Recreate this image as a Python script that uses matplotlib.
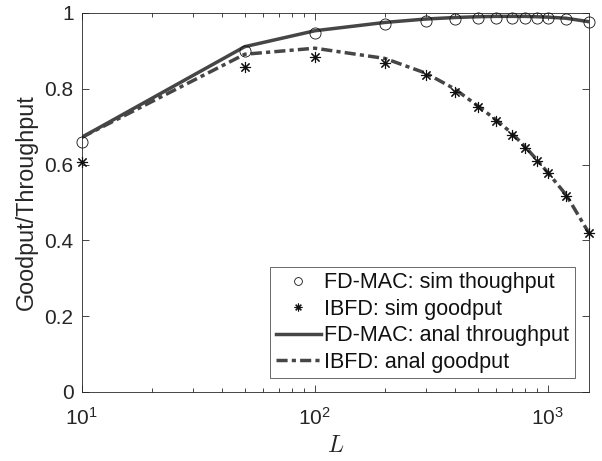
import numpy as np
import matplotlib
matplotlib.use("Agg")
import matplotlib.pyplot as plt
from matplotlib.ticker import FixedLocator, FixedFormatter, LogLocator, NullFormatter

plt.rcParams['font.family'] = ['Liberation Sans', 'DejaVu Sans']
plt.rcParams['mathtext.fontset'] = 'cm'

# packet length L
L = [10, 50, 100, 200, 300, 400, 500, 600, 700, 800, 900, 1000, 1200, 1500]

sim_throughput = [0.660, 0.900, 0.946, 0.971, 0.980, 0.984, 0.987, 0.988,
                  0.988, 0.988, 0.988, 0.987, 0.984, 0.976]
sim_goodput = [0.608, 0.858, 0.885, 0.869, 0.836, 0.792, 0.751, 0.716,
               0.678, 0.645, 0.610, 0.577, 0.517, 0.420]
anal_throughput = [0.672, 0.911, 0.953, 0.975, 0.984, 0.988, 0.990, 0.991,
                   0.991, 0.991, 0.990, 0.989, 0.986, 0.977]
anal_goodput = [0.672, 0.891, 0.907, 0.880, 0.841, 0.799, 0.755, 0.718,
                0.683, 0.647, 0.612, 0.579, 0.520, 0.420]

xtick_vals = [10, 100, 1000]
xtick_labels = [r'$\mathregular{10^{1}}$', r'$\mathregular{10^{2}}$', r'$\mathregular{10^{3}}$']
ytick_vals = [0, 0.2, 0.4, 0.6, 0.8, 1]
ytick_labels = ['0', '0.2', '0.4', '0.6', '0.8', '1']

axis_col = '#262626'
line_col = '#464646'
mark_col = '#111111'

fig = plt.figure(figsize=(6.02, 4.61), dpi=100)
ax = fig.add_axes([0.136, 0.1497, 0.842, 0.8222])

ax.plot(L, sim_throughput, linestyle='none', marker='o', markersize=8,
        markerfacecolor='none', markeredgecolor=mark_col, markeredgewidth=0.6,
        clip_on=False, zorder=4, label='FD-MAC: sim thoughput')
ax.plot(L, sim_goodput, linestyle='none', marker=(8, 2, 0), markersize=8,
        color=mark_col, markeredgewidth=0.8, clip_on=False, zorder=4,
        label='IBFD: sim goodput')
ax.plot(L, anal_throughput, '-', color=line_col, linewidth=2.5,
        label='FD-MAC: anal throughput')
ax.plot(L, anal_goodput, color=line_col, linewidth=2.5,
        linestyle=(0, (3.2, 1.2, 1.2, 1.2)), label='IBFD: anal goodput')

ax.set_xscale('log')
ax.set_xlim(10, 1500)
ax.set_ylim(0, 1)
ax.xaxis.set_major_locator(FixedLocator(xtick_vals))
ax.xaxis.set_major_formatter(FixedFormatter(xtick_labels))
ax.xaxis.set_minor_locator(LogLocator(base=10, subs=np.arange(2, 10), numticks=20))
ax.xaxis.set_minor_formatter(NullFormatter())
ax.yaxis.set_major_locator(FixedLocator(ytick_vals))
ax.yaxis.set_major_formatter(FixedFormatter(ytick_labels))

ax.tick_params(which='both', direction='in', top=True, right=True,
               color=axis_col, labelcolor=axis_col, labelsize=15, width=0.6)
ax.tick_params(which='major', length=5)
ax.tick_params(which='minor', length=3)
ax.tick_params(axis='y', which='major', pad=6)
ax.tick_params(axis='x', which='major', pad=11)
for s in ax.spines.values():
    s.set_color(axis_col)
    s.set_linewidth(0.6)

ax.set_xlabel('$L$', fontsize=17, color=axis_col, labelpad=4)
ax.set_ylabel('Goodput/Throughput', fontsize=16.8, color=axis_col, labelpad=5)

leg = ax.legend(loc='lower right', bbox_to_anchor=(0.972, 0.037),
                borderaxespad=0, fontsize=15.5, frameon=True, fancybox=False,
                edgecolor=axis_col, handlelength=2.1, handletextpad=0.15,
                borderpad=0.25, labelspacing=0.25, markerscale=0.7)
leg.get_frame().set_linewidth(0.6)
for t in leg.get_texts():
    t.set_color('#111111')

fig.savefig('out.png', dpi=100)
